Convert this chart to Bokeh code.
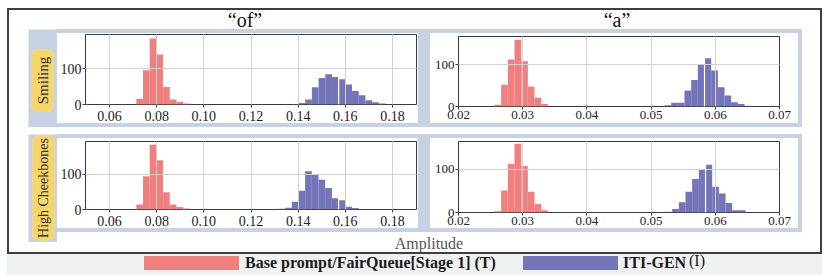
import numpy as np
from bokeh.plotting import figure
from bokeh.layouts import row, column
from bokeh.models import Range1d, FixedTicker, Label, BoxAnnotation, Div, Spacer
from bokeh.embed import file_html
from bokeh.resources import INLINE

# ---------------- data ----------------
TITLES = ["\u201cof\u201d", "\u201ca\u201d"]
ROW_LABELS = ["Smiling", "High Cheekbones"]
X_LABEL = "Amplitude"
LEGEND_BASE = "Base prompt/FairQueue[Stage 1] (T)"
LEGEND_ITI = "ITI-GEN"
LEGEND_ITI_SUFFIX = "(I)"

OF_XTICKS = [0.06, 0.08, 0.10, 0.12, 0.14, 0.16, 0.18]
OF_XTICK_LABELS = ["0.06", "0.08", "0.10", "0.12", "0.14", "0.16", "0.18"]
OF_XLIM = [0.0498, 0.1902]
A_XTICKS = [0.02, 0.03, 0.04, 0.05, 0.06, 0.07]
A_XTICK_LABELS = ["0.02", "0.03", "0.04", "0.05", "0.06", "0.07"]
A_XLIM = [0.02, 0.07]
YTICKS = [0, 100]
YTICK_LABELS = ["0", "100"]

OF_BIN = 0.002837
A_BIN = 0.001039

# Smiling / "of"
SMILE_OF_BASE_START = 0.07136
SMILE_OF_BASE = [16, 96, 185, 140, 49, 14, 8, 3]
SMILE_OF_ITI_START = 0.13732
SMILE_OF_ITI = [1, 4, 14, 48, 74, 85, 77, 71, 56, 38, 26, 12, 6, 3]
SMILE_OF_MARK = 0.1572
SMILE_OF_YMAX = 196

# Smiling / "a"
SMILE_A_BASE_START = 0.025607
SMILE_A_BASE = [4, 52, 112, 159, 108, 48, 21, 6]
SMILE_A_ITI_START = 0.052087
SMILE_A_ITI = [3, 9, 9, 38, 63, 100, 115, 86, 46, 26, 10, 6, 2]
SMILE_A_MARK = 0.05832
SMILE_A_YMAX = 167

# High Cheekbones / "of"
CHEEK_OF_BASE_START = 0.07136
CHEEK_OF_BASE = [14, 94, 183, 139, 49, 14, 7, 3]
CHEEK_OF_ITI_START = 0.13162
CHEEK_OF_ITI = [2, 5, 22, 53, 108, 100, 84, 61, 32, 26, 8, 4]
CHEEK_OF_MARK = 0.15715
CHEEK_OF_YMAX = 192

# High Cheekbones / "a"
CHEEK_A_BASE_START = 0.025607
CHEEK_A_BASE = [3, 51, 113, 160, 108, 48, 20, 5]
CHEEK_A_ITI_START = 0.052243
CHEEK_A_ITI = [2, 8, 24, 48, 78, 99, 111, 60, 44, 22, 5, 5]
CHEEK_A_MARK = 0.05848
CHEEK_A_YMAX = 165

# ---------------- style ----------------
RED = "#f08080"
BLUE = "#7474b8"
BAND = "#c6d1e2"
WHITE = "#ffffff"
DARK = "#404040"
YELLOW = "#f6d56b"
SERIF = "Liberation Serif"


def sp(w, h, color):
    return Spacer(width=w, height=h, margin=0,
                  styles={"background-color": color})


def text_div(w, h, html, bg=WHITE):
    return Div(text=html, width=w, height=h, margin=0,
               styles={"background-color": bg, "overflow": "visible"})


def span(txt, left, top, size, color="#111111", weight="normal", center=False):
    tr = "transform:translateX(-50%);" if center else ""
    return (f'<span style="position:absolute;left:{left}px;top:{top}px;{tr}'
            f'font-family:\'{SERIF}\';font-size:{size}px;line-height:1;'
            f'font-weight:{weight};color:{color};white-space:nowrap;">{txt}</span>')


def wrap(w, h, inner_html):
    return f'<div style="position:relative;width:{w}px;height:{h}px;">{inner_html}</div>'


def hist_panel(w, h, xlim, ymax, xticks, xlabels, fs, bl, br, bt, bb,
               base_start, base_counts, iti_start, iti_counts, bin_w, mark,
               x_standoff, x_lh):
    p = figure(width=w, height=h, x_range=Range1d(*xlim), y_range=Range1d(0, ymax),
               toolbar_location=None, output_backend="svg",
               min_border_left=bl, min_border_right=br,
               min_border_top=bt, min_border_bottom=bb,
               background_fill_color=WHITE, border_fill_color=WHITE,
               outline_line_color="#3a3a3a", outline_line_width=1)
    for start, counts, color in ((base_start, base_counts, RED),
                                 (iti_start, iti_counts, BLUE)):
        c = np.asarray(counts, dtype=float)
        left = start + bin_w * np.arange(len(c))
        p.quad(left=left, right=left + bin_w, bottom=0, top=c,
               fill_color=color, line_color=None)
    ic = np.asarray(iti_counts)
    k = int(round((mark - iti_start) / bin_w))
    y1 = max(ic[max(k - 1, 0)], ic[min(k, len(ic) - 1)])
    p.segment(x0=[mark], y0=[0], x1=[mark], y1=[y1], line_color="white", line_width=1.2)

    p.xaxis.ticker = FixedTicker(ticks=xticks)
    p.xaxis.major_label_overrides = {t: l for t, l in zip(xticks, xlabels)}
    p.yaxis.ticker = FixedTicker(ticks=YTICKS)
    p.yaxis.major_label_overrides = {t: l for t, l in zip(YTICKS, YTICK_LABELS)}
    p.xgrid.ticker = FixedTicker(ticks=[t for t in xticks if xlim[0] < t < xlim[1]])
    p.ygrid.ticker = FixedTicker(ticks=[t for t in YTICKS if 0 < t < ymax])
    p.grid.grid_line_color = "#d0d0d0"
    p.grid.grid_line_width = 1
    p.grid.level = "guide"
    for ax in (p.xaxis, p.yaxis):
        ax.axis_line_color = None
        ax.major_tick_line_color = "#3a3a3a"
        ax.major_tick_out = 3
        ax.major_tick_in = 0
        ax.minor_tick_line_color = None
        ax.major_label_text_font = SERIF
        ax.major_label_text_font_size = fs
        ax.major_label_text_color = "#222222"
        ax.major_label_standoff = 1
        ax.major_label_text_line_height = 1.0
    p.xaxis.major_label_standoff = x_standoff
    p.xaxis.major_label_text_line_height = x_lh
    return p


def strip(h, label, box_l, box_r, box_b, box_t, fs):
    f = figure(width=29, height=h, toolbar_location=None, output_backend="svg",
               x_axis_location=None, y_axis_location=None, min_border=0,
               x_range=Range1d(0, 29), y_range=Range1d(0, h),
               background_fill_color=BAND, border_fill_color=BAND,
               outline_line_color=None)
    f.xgrid.grid_line_color = None
    f.ygrid.grid_line_color = None
    f.add_layout(BoxAnnotation(left=box_l, right=box_r, bottom=box_b, top=box_t,
                               fill_color=YELLOW, fill_alpha=1.0,
                               line_color="#f3e3a8", line_width=1.5, border_radius=6))
    f.add_layout(Label(x=(box_l + box_r) / 2, y=(box_b + box_t) / 2, text=label,
                       angle=np.pi / 2, text_align="center", text_baseline="middle",
                       text_font=SERIF, text_font_size=fs, text_color="#333333"))
    return f


# ---------------- panels ----------------
tl = hist_panel(361, 90, OF_XLIM, SMILE_OF_YMAX, OF_XTICKS, OF_XTICK_LABELS, "14px",
                28, 2, 1, 18, SMILE_OF_BASE_START, SMILE_OF_BASE,
                SMILE_OF_ITI_START, SMILE_OF_ITI, OF_BIN, SMILE_OF_MARK, 3, 0.85)
tr = hist_panel(368, 90, A_XLIM, SMILE_A_YMAX, A_XTICKS, A_XTICK_LABELS, "13px",
                28, 19, 3, 17, SMILE_A_BASE_START, SMILE_A_BASE,
                SMILE_A_ITI_START, SMILE_A_ITI, A_BIN, SMILE_A_MARK, 1, 1.0)
bl = hist_panel(361, 90, OF_XLIM, CHEEK_OF_YMAX, OF_XTICKS, OF_XTICK_LABELS, "14px",
                28, 2, 3, 18, CHEEK_OF_BASE_START, CHEEK_OF_BASE,
                CHEEK_OF_ITI_START, CHEEK_OF_ITI, OF_BIN, CHEEK_OF_MARK, 3, 0.85)
br = hist_panel(368, 90, A_XLIM, CHEEK_A_YMAX, A_XTICKS, A_XTICK_LABELS, "13px",
                28, 19, 3, 16, CHEEK_A_BASE_START, CHEEK_A_BASE,
                CHEEK_A_ITI_START, CHEEK_A_ITI, A_BIN, CHEEK_A_MARK, 1, 1.0)


def framed(p, w):
    return column(sp(w, 4, BAND), p, sp(w, 4, BAND))


# titles (inner area starts at page x = 9)
title_div = text_div(811, 19, wrap(811, 19,
                     span(TITLES[0], 236, 0, 20, center=True) +
                     span(TITLES[1], 608, 0, 20, center=True)))

strip1 = strip(98, ROW_LABELS[0], 3, 25, 16, 78, "15px")
strip2 = strip(108, ROW_LABELS[1], 4, 26, 2, 107, "14px")

rowB = row(sp(19, 98, WHITE), strip1, framed(tl, 361), sp(12, 98, BAND),
           framed(tr, 368), sp(4, 98, BAND), sp(18, 98, WHITE))

amp_div = text_div(763, 20, wrap(763, 20,
                   span(X_LABEL, 372, 4, 16, color="#555555", center=True)))

panel_row2 = row(framed(bl, 361), sp(12, 98, BAND), framed(br, 368),
                 sp(4, 98, BAND), sp(18, 98, WHITE))
rowDE = row(sp(19, 118, WHITE), column(strip2, sp(29, 10, WHITE)),
            column(panel_row2, amp_div))

inner = column(title_div, rowB, sp(811, 7, WHITE), rowDE)
main = column(sp(815, 2, DARK),
              row(sp(2, 242, DARK), inner, sp(2, 242, DARK)),
              sp(815, 2, DARK))

# legend (page x origin = 7)
patch = ('<span style="position:absolute;left:{l}px;top:2px;width:95px;height:14px;'
         'background-color:{c};"></span>')
leg_html = (patch.format(l=137, c=RED) +
            span(LEGEND_BASE, 238, 1, 16, color="#1a1a1a", weight="bold") +
            patch.format(l=516, c=BLUE) +
            span(LEGEND_ITI, 616, 1, 16, color="#1a1a1a", weight="bold") +
            span(LEGEND_ITI_SUFFIX, 682, -1, 16, color="#1a1a1a"))
leg = text_div(815, 21, wrap(815, 21, leg_html), bg="#eff1f1")

root = column(main, leg, margin=(8, 0, 0, 7))

open("out.html", "w").write(file_html(root, INLINE))
